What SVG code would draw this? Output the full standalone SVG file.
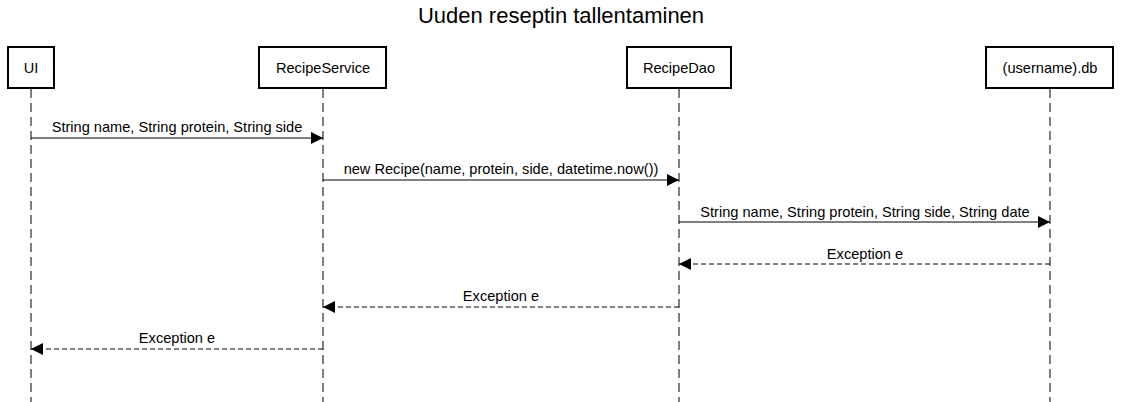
<svg xmlns="http://www.w3.org/2000/svg" width="1121" height="402" viewBox="0 0 1121 402">
<style>
.box{fill:#fff;stroke:#000;stroke-width:2}
.lbl{font-family:"Liberation Sans",Arial,sans-serif;font-size:14.6px;fill:#000;text-anchor:middle}
.life{stroke:#000;stroke-width:1;stroke-dasharray:9,5;fill:none}
.msg{stroke:#000;stroke-width:1;fill:none}
.ret{stroke:#000;stroke-width:1;stroke-dasharray:5,3;fill:none}
.title{font-family:"Liberation Sans",Arial,sans-serif;font-size:22px;fill:#000;text-anchor:middle}
</style>
<defs>
<marker id="ah" markerWidth="12" markerHeight="12" refX="12" refY="6" orient="auto" markerUnits="userSpaceOnUse">
<path d="M0,0 L12,6 L0,12 z" fill="#000"/>
</marker>
</defs>
<rect width="1121" height="402" fill="#fff"/>
<text class="title" x="561" y="23">Uuden reseptin tallentaminen</text>
<g id="lifelines">
<line class="life" x1="31" y1="89" x2="31" y2="402"/>
<line class="life" x1="323" y1="89" x2="323" y2="402"/>
<line class="life" x1="679" y1="89" x2="679" y2="402"/>
<line class="life" x1="1050" y1="89" x2="1050" y2="402"/>
</g>
<g id="node-ui"><rect class="box" x="8" y="47" width="46" height="41"/><text class="lbl" x="31" y="73">UI</text></g>
<g id="node-recipeservice"><rect class="box" x="259" y="47" width="127" height="41"/><text class="lbl" x="323" y="73">RecipeService</text></g>
<g id="node-recipedao"><rect class="box" x="627" y="47" width="104" height="41"/><text class="lbl" x="679" y="73">RecipeDao</text></g>
<g id="node-db"><rect class="box" x="986" y="47" width="127" height="41"/><text class="lbl" x="1050" y="73">(username).db</text></g>
<g id="connectors">
<line class="msg" x1="31" y1="138" x2="323" y2="138" marker-end="url(#ah)"/>
<text class="lbl" x="177" y="132">String name, String protein, String side</text>
<line class="msg" x1="323" y1="180" x2="679" y2="180" marker-end="url(#ah)"/>
<text class="lbl" x="501" y="174">new Recipe(name, protein, side, datetime.now())</text>
<line class="msg" x1="679" y1="222" x2="1050" y2="222" marker-end="url(#ah)"/>
<text class="lbl" x="865" y="217">String name, String protein, String side, String date</text>
<line class="ret" x1="1050" y1="264" x2="679" y2="264" marker-end="url(#ah)"/>
<text class="lbl" x="865" y="259">Exception e</text>
<line class="ret" x1="679" y1="307" x2="323" y2="307" marker-end="url(#ah)"/>
<text class="lbl" x="501" y="301">Exception e</text>
<line class="ret" x1="323" y1="349" x2="31" y2="349" marker-end="url(#ah)"/>
<text class="lbl" x="177" y="343">Exception e</text>
</g>
</svg>
